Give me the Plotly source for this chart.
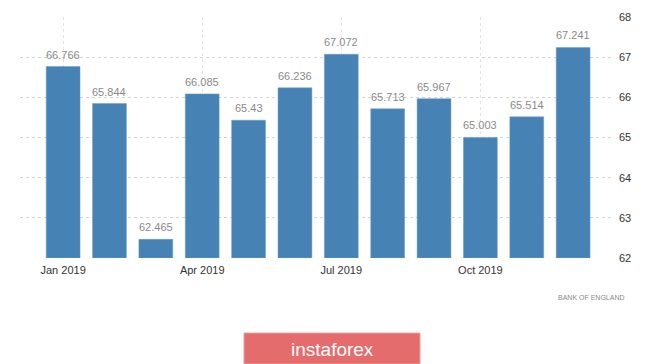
import plotly.graph_objects as go

months = ["Jan 2019", "Feb 2019", "Mar 2019", "Apr 2019", "May 2019", "Jun 2019",
          "Jul 2019", "Aug 2019", "Sep 2019", "Oct 2019", "Nov 2019", "Dec 2019"]
values = [66.766, 65.844, 62.465, 66.085, 65.43, 66.236,
          67.072, 65.713, 65.967, 65.003, 65.514, 67.241]
labels = ["66.766", "65.844", "62.465", "66.085", "65.43", "66.236",
          "67.072", "65.713", "65.967", "65.003", "65.514", "67.241"]
x_tick_pos = [0, 3, 6, 9]
x_tick_text = ["Jan 2019", "Apr 2019", "Jul 2019", "Oct 2019"]
y_ticks = [62, 63, 64, 65, 66, 67, 68]

base = 62
xs = list(range(len(months)))
FONT = "Liberation Sans, Arial, sans-serif"

fig = go.Figure()
fig.add_trace(go.Bar(
    x=xs,
    y=[v - base for v in values],
    base=base,
    width=0.73,
    marker=dict(color="#4682B4", line=dict(color="#6A9CC8", width=0.5)),
    hoverinfo="skip",
))

for xi, v, lab in zip(xs, values, labels):
    fig.add_annotation(
        x=xi, y=v, text=lab, showarrow=False, xanchor="center", yanchor="middle",
        yshift=12, font=dict(family=FONT, size=11, color="#8a8a8a"),
    )

fig.update_layout(
    width=665, height=364,
    margin=dict(l=20, r=52, t=17, b=106),
    paper_bgcolor="white", plot_bgcolor="white",
    showlegend=False,
    xaxis=dict(
        range=[-0.93, 11.86],
        tickvals=x_tick_pos, ticktext=x_tick_text,
        showgrid=True, gridcolor="#e4e4e4", griddash="dot", gridwidth=1,
        zeroline=False, showline=False, ticks="",
        ticklabelstandoff=4,
        tickfont=dict(family=FONT, size=11, color="#333333"),
    ),
    yaxis=dict(
        range=[62, 68], side="right",
        tickvals=y_ticks,
        showgrid=True, gridcolor="#d4d4d4", griddash="dot", gridwidth=1,
        zeroline=False, showline=False, ticks="",
        ticklabelstandoff=5,
        tickfont=dict(family=FONT, size=11, color="#333333"),
    ),
)

fig.add_annotation(
    text="BANK OF ENGLAND", xref="paper", yref="paper",
    x=1.0, y=-0.165, xanchor="right", yanchor="middle", showarrow=False,
    font=dict(family=FONT, size=7, color="#8a8a8a"),
    xshift=14,
)

# instaforex banner
fig.add_shape(
    type="rect", xref="paper", yref="paper",
    x0=(244 - 20) / 593, x1=(420 - 20) / 593,
    y0=(258 - 364) / 241, y1=(258 - 333) / 241,
    fillcolor="#E46C6C", line=dict(color="#E9A0A0", width=1), layer="above",
)
fig.add_annotation(
    text="instaforex", xref="paper", yref="paper",
    x=(332 - 20) / 593, y=(258 - 349) / 241,
    xanchor="center", yanchor="middle", showarrow=False,
    font=dict(family=FONT, size=19, color="white"),
)

fig.write_html("out.html", config={"displayModeBar": False},
               post_script="document.body.style.margin='0';document.body.style.overflow='hidden';")
